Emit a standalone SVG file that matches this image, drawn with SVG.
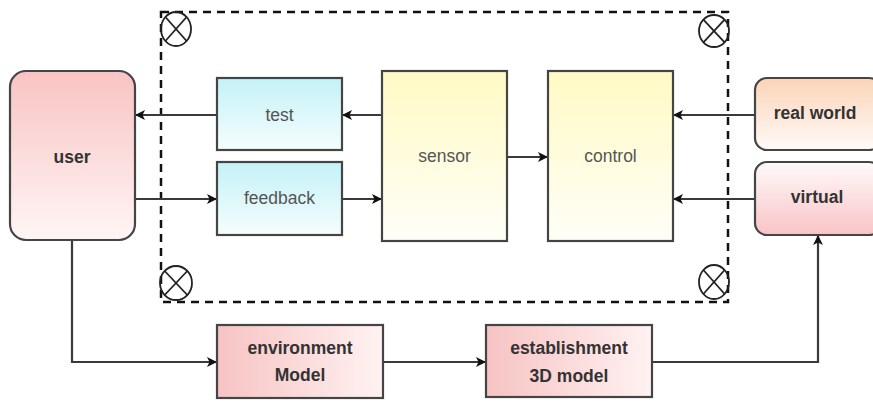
<svg xmlns="http://www.w3.org/2000/svg" width="873" height="403" viewBox="0 0 873 403">
  <style>
    .box { stroke: #454545; stroke-width: 2.2; }
    .lbl { font-family: "Liberation Sans", Arial, sans-serif; font-size: 17.5px; fill: #555; text-anchor: middle; dominant-baseline: central; }
    .bold { font-weight: bold; fill: #333; }
    .edge { fill: none; stroke: #3a3a3a; stroke-width: 2.2; }
    .frame { fill: none; stroke: #111; stroke-width: 2.5; stroke-dasharray: 8 6; }
    .cross { fill: none; stroke: #222; stroke-width: 1.8; }
  </style>
  <defs>
    <linearGradient id="gUser" x1="0" y1="0" x2="0" y2="1">
      <stop offset="0" stop-color="#f9c3c3"/>
      <stop offset="1" stop-color="#fff5f5"/>
    </linearGradient>
    <linearGradient id="gCyan" x1="0" y1="0" x2="0" y2="1">
      <stop offset="0" stop-color="#c4f2f7"/>
      <stop offset="1" stop-color="#f5fdfe"/>
    </linearGradient>
    <linearGradient id="gYellow" x1="0" y1="0" x2="0" y2="1">
      <stop offset="0" stop-color="#fffac4"/>
      <stop offset="1" stop-color="#fffef7"/>
    </linearGradient>
    <linearGradient id="gPeach" x1="0" y1="0" x2="0" y2="1">
      <stop offset="0" stop-color="#fbd4b8"/>
      <stop offset="1" stop-color="#fffaf7"/>
    </linearGradient>
    <linearGradient id="gVirtual" x1="0" y1="0" x2="0" y2="1">
      <stop offset="0" stop-color="#fffafa"/>
      <stop offset="1" stop-color="#f9c3c6"/>
    </linearGradient>
    <linearGradient id="gModel" x1="0" y1="0" x2="1" y2="0">
      <stop offset="0" stop-color="#f7c3c3"/>
      <stop offset="1" stop-color="#fff2f2"/>
    </linearGradient>
    <marker id="arrow" viewBox="0 0 10 10" refX="9" refY="5" markerWidth="11" markerHeight="10" markerUnits="userSpaceOnUse" orient="auto">
      <path d="M0,0 L10,5 L0,10 L2.5,5 Z" fill="#111"/>
    </marker>
  </defs>

  <!-- dashed system boundary with corner markers -->
  <g id="boundary">
    <rect class="frame" x="161" y="12" width="567" height="290"/>
    <g class="cross">
      <ellipse cx="176" cy="29" rx="15" ry="17"/>
      <line x1="165.4" y1="17" x2="186.6" y2="41"/>
      <line x1="186.6" y1="17" x2="165.4" y2="41"/>
      <ellipse cx="714" cy="31" rx="15" ry="16"/>
      <line x1="703.4" y1="19.7" x2="724.6" y2="42.3"/>
      <line x1="724.6" y1="19.7" x2="703.4" y2="42.3"/>
      <ellipse cx="176" cy="283" rx="16" ry="17"/>
      <line x1="164.7" y1="271" x2="187.3" y2="295"/>
      <line x1="187.3" y1="271" x2="164.7" y2="295"/>
      <ellipse cx="714" cy="282" rx="15" ry="17"/>
      <line x1="703.4" y1="270" x2="724.6" y2="294"/>
      <line x1="724.6" y1="270" x2="703.4" y2="294"/>
    </g>
  </g>

  <!-- connectors -->
  <g id="connectors">
    <line class="edge" x1="217" y1="115" x2="136" y2="115" marker-end="url(#arrow)"/>
    <line class="edge" x1="135" y1="199" x2="216" y2="199" marker-end="url(#arrow)"/>
    <line class="edge" x1="382" y1="115" x2="343" y2="115" marker-end="url(#arrow)"/>
    <line class="edge" x1="342" y1="199" x2="381" y2="199" marker-end="url(#arrow)"/>
    <line class="edge" x1="507" y1="157" x2="547" y2="157" marker-end="url(#arrow)"/>
    <line class="edge" x1="755" y1="115" x2="674" y2="115" marker-end="url(#arrow)"/>
    <line class="edge" x1="755" y1="199" x2="674" y2="199" marker-end="url(#arrow)"/>
    <polyline class="edge" points="72,240 72,362 216,362" marker-end="url(#arrow)"/>
    <line class="edge" x1="383" y1="362" x2="485" y2="362" marker-end="url(#arrow)"/>
    <polyline class="edge" points="652,362 818,362 818,236" marker-end="url(#arrow)"/>
  </g>

  <g id="user">
    <rect class="box" x="10" y="71" width="125" height="169" rx="16" fill="url(#gUser)"/>
    <text class="lbl bold" x="72" y="157">user</text>
  </g>
  <g id="test">
    <rect class="box" x="217" y="78" width="125" height="72" fill="url(#gCyan)"/>
    <text class="lbl" x="279.5" y="115">test</text>
  </g>
  <g id="feedback">
    <rect class="box" x="217" y="162" width="125" height="73" fill="url(#gCyan)"/>
    <text class="lbl" x="279.5" y="198">feedback</text>
  </g>
  <g id="sensor">
    <rect class="box" x="382" y="71" width="125" height="170" fill="url(#gYellow)"/>
    <text class="lbl" x="444.5" y="156">sensor</text>
  </g>
  <g id="control">
    <rect class="box" x="548" y="71" width="125" height="170" fill="url(#gYellow)"/>
    <text class="lbl" x="610.5" y="156">control</text>
  </g>
  <g id="real-world">
    <rect class="box" x="755" y="78" width="126" height="72" rx="12" fill="url(#gPeach)"/>
    <text class="lbl bold" x="815" y="113">real world</text>
  </g>
  <g id="virtual">
    <rect class="box" x="755" y="162" width="126" height="73" rx="12" fill="url(#gVirtual)"/>
    <text class="lbl bold" x="817" y="197">virtual</text>
  </g>
  <g id="environment-model">
    <rect class="box" x="217" y="325" width="166" height="73" fill="url(#gModel)"/>
    <text class="lbl bold" x="300" y="348">environment</text>
    <text class="lbl bold" x="300" y="375">Model</text>
  </g>
  <g id="establishment-3d-model">
    <rect class="box" x="486" y="325" width="166" height="72" fill="url(#gModel)"/>
    <text class="lbl bold" x="569" y="348">establishment</text>
    <text class="lbl bold" x="569" y="376">3D model</text>
  </g>
</svg>
